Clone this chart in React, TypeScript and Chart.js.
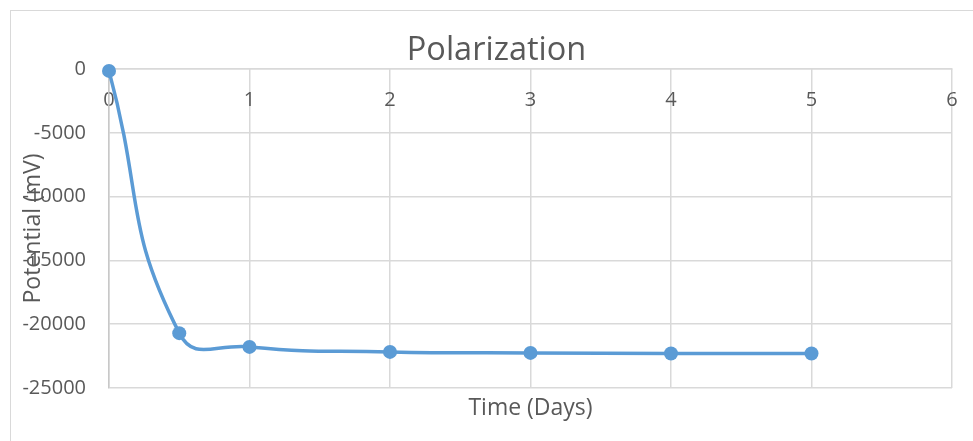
import React, { useEffect, useRef } from "react";
import { Chart, registerables } from "chart.js";

Chart.register(...registerables);

const timeDays = [0, 0.5, 1, 2, 3, 4, 5];
const potentialMv = [-150, -20700, -21780, -22170, -22250, -22300, -22300];

const chartTitle = "Polarization";
const xTitle = "Time (Days)";
const yTitle = "Potential (mV)";
const xMin = 0;
const xMax = 6;
const xStep = 1;
const yMin = -25000;
const yMax = 0;
const yStep = 5000;

const FONT = "'Open Sans', 'DejaVu Sans', sans-serif";
const TEXT = "#595959";
const GRID = "#d9d9d9";
const BLUE = "#5b9bd5";

export default function App() {
  const ref = useRef<HTMLCanvasElement | null>(null);

  useEffect(() => {
    if (!ref.current) return;
    const points = timeDays.map((x, i) => ({ x, y: potentialMv[i] }));
    const chart = new Chart(ref.current, {
      type: "line",
      data: {
        datasets: [
          {
            data: points,
            borderColor: BLUE,
            backgroundColor: BLUE,
            borderWidth: 3.5,
            tension: 0.5,
            pointRadius: 7,
            pointHoverRadius: 7,
            pointBackgroundColor: BLUE,
            pointBorderWidth: 0,
            clip: false as any,
            fill: false,
          },
        ],
      },
      options: {
        animation: false,
        responsive: false,
        devicePixelRatio: 1,
        layout: { padding: { left: 0, right: -20, top: 0, bottom: 18.7 } },
        plugins: {
          legend: { display: false },
          tooltip: { enabled: false },
          title: {
            display: true,
            text: chartTitle,
            color: TEXT,
            font: { family: FONT, size: 32.5, weight: "normal" as any, lineHeight: 1.2 },
            padding: { top: 31.5, bottom: -1.5 },
          },
        },
        scales: {
          x: {
            type: "linear",
            position: { y: 0 } as any,
            min: xMin,
            max: xMax,
            ticks: {
              stepSize: xStep,
              padding: 0,
              color: TEXT,
              font: { family: FONT, size: 20 },
              maxRotation: 0,
            },
            grid: {
              color: GRID,
              lineWidth: 1.5,
              drawTicks: true,
              tickLength: 19,
              tickColor: "rgba(0,0,0,0)",
            },
            border: { color: GRID, width: 1.5 },
          },
          x2: {
            type: "linear",
            position: "bottom",
            min: xMin,
            max: xMax,
            ticks: { display: false },
            grid: { display: false, drawTicks: false },
            border: { display: false },
            title: {
              display: true,
              text: xTitle,
              color: TEXT,
              font: { family: FONT, size: 23, lineHeight: 1.2 },
              padding: { top: 6.7, bottom: 0 },
            },
          },
          y: {
            type: "linear",
            position: "left",
            min: yMin,
            max: yMax,
            ticks: {
              stepSize: yStep,
              padding: 23,
              color: TEXT,
              font: { family: FONT, size: 20 },
              callback: (v: any) => String(v),
            },
            grid: { color: GRID, lineWidth: 1.5, drawTicks: false },
            border: { color: "#c8c8c8", width: 1.5 },
            title: {
              display: true,
              text: yTitle,
              color: TEXT,
              font: { family: FONT, size: 23, lineHeight: 1.2 },
              padding: { top: 19.2, bottom: 0 },
            },
            afterFit: (scale: any) => {
              scale.width = 109;
            },
          },
          y2: {
            type: "linear",
            position: "right",
            min: yMin,
            max: yMax,
            ticks: { display: false },
            grid: { display: false, drawTicks: false },
            border: { display: false },
            afterFit: (scale: any) => {
              scale.width = 41;
            },
          },
        },
      },
    });
    return () => chart.destroy();
  }, []);

  return (
    <div
      style={{
        position: "fixed",
        left: 0,
        top: 0,
        width: 973,
        height: 441,
        overflow: "hidden",
        background: "#ffffff",
      }}
    >
      <canvas
        ref={ref}
        width={973}
        height={441}
        style={{ position: "absolute", left: 0, top: 0, width: 973, height: 441 }}
      />
      <div
        style={{
          position: "absolute",
          left: 10,
          top: 10,
          width: 2000,
          height: 2000,
          borderLeft: "1.5px solid #d9d9d9",
          borderTop: "1.5px solid #d9d9d9",
          pointerEvents: "none",
        }}
      />
    </div>
  );
}
